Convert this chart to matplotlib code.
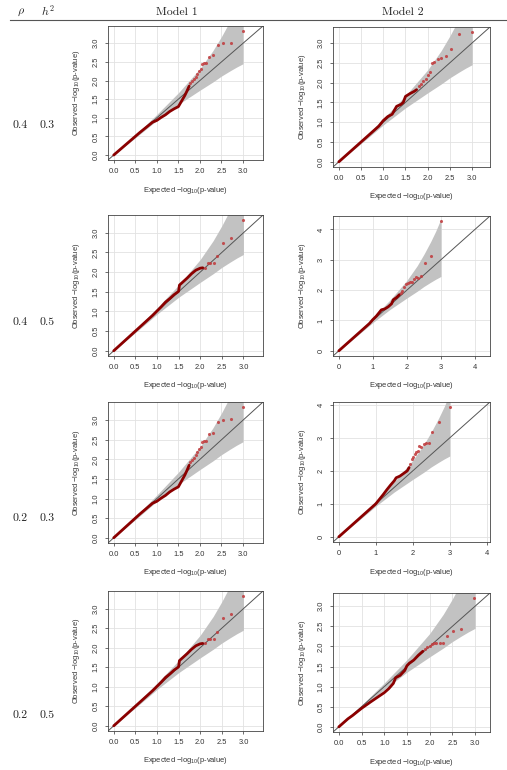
import matplotlib.pyplot as plt
import numpy as np
from matplotlib.ticker import MultipleLocator, FormatStrFormatter

plt.rcParams['font.family'] = ['Liberation Sans', 'DejaVu Sans']
plt.rcParams['mathtext.fontset'] = 'custom'
plt.rcParams['mathtext.rm'] = 'Liberation Sans'
plt.rcParams['mathtext.it'] = 'Liberation Sans:italic'

# table labels
rho = ['0.4', '0.4', '0.2', '0.2']
h2 = ['0.3', '0.5', '0.3', '0.5']
models = ['Model 1', 'Model 2']

# 95% confidence band (same for every panel)
band_x = [0.0, 0.5, 1.0, 1.5, 2.0, 2.3, 2.5, 2.7, 2.85, 3.0]
band_lo = [0.0, 0.46, 0.93, 1.36, 1.74, 1.96, 2.12, 2.26, 2.36, 2.45]
band_hi = [0.0, 0.54, 1.09, 1.67, 2.32, 2.80, 3.18, 3.60, 3.95, 4.35]

# Model 1, h2 = 0.3  (dense run of points + sparse tail)
a_dense_x = [0, 0.3, 0.6, 0.9, 1.0, 1.1, 1.2, 1.3, 1.4, 1.5, 1.55, 1.6, 1.65, 1.7, 1.75]
a_dense_y = [0, 0.3, 0.6, 0.88, 0.93, 1.01, 1.08, 1.17, 1.24, 1.3, 1.4, 1.5, 1.6, 1.72, 1.85]
a_tail_x = [1.78, 1.82, 1.86, 1.9, 1.94, 1.98, 2.02, 2.05, 2.09, 2.15, 2.22, 2.31, 2.41, 2.53, 2.71, 2.99]
a_tail_y = [1.93, 1.98, 2.04, 2.1, 2.18, 2.26, 2.32, 2.44, 2.46, 2.48, 2.64, 2.68, 2.95, 3.0, 3.02, 3.33]

# Model 1, h2 = 0.5
b_dense_x = [0, 0.3, 0.6, 0.9, 1.1, 1.2, 1.3, 1.4, 1.5, 1.52, 1.6, 1.7, 1.8, 1.9, 2.0, 2.06]
b_dense_y = [0, 0.3, 0.6, 0.9, 1.12, 1.24, 1.33, 1.43, 1.51, 1.67, 1.75, 1.85, 1.96, 2.05, 2.1, 2.11]
b_tail_x = [2.1, 2.17, 2.23, 2.31, 2.4, 2.53, 2.71, 3.0]
b_tail_y = [2.11, 2.22, 2.22, 2.23, 2.41, 2.75, 2.87, 3.32]

# Model 2, rho 0.4 h2 0.3
c_dense_x = [0, 0.3, 0.6, 0.9, 1.0, 1.1, 1.2, 1.3, 1.4, 1.45, 1.5, 1.6, 1.7, 1.75]
c_dense_y = [0, 0.3, 0.6, 0.9, 1.04, 1.14, 1.2, 1.4, 1.45, 1.5, 1.65, 1.72, 1.78, 1.82]
c_tail_x = [1.8, 1.85, 1.9, 1.95, 2.0, 2.05, 2.1, 2.15, 2.22, 2.3, 2.4, 2.52, 2.7, 3.0]
c_tail_y = [1.92, 1.96, 2.05, 2.1, 2.19, 2.26, 2.5, 2.53, 2.6, 2.63, 2.66, 2.85, 3.22, 3.27]

# Model 2, rho 0.4 h2 0.5
d_dense_x = [0, 0.3, 0.6, 0.9, 1.0, 1.1, 1.2, 1.25, 1.35, 1.45, 1.55, 1.6, 1.7, 1.78]
d_dense_y = [0, 0.3, 0.6, 0.9, 1.03, 1.14, 1.28, 1.35, 1.38, 1.45, 1.55, 1.68, 1.76, 1.85]
d_tail_x = [1.82, 1.87, 1.92, 1.97, 2.02, 2.08, 2.14, 2.2, 2.26, 2.32, 2.4, 2.52, 2.7, 3.0]
d_tail_y = [1.9, 1.98, 2.1, 2.2, 2.24, 2.26, 2.28, 2.36, 2.42, 2.4, 2.45, 2.9, 3.13, 4.27]

# Model 2, rho 0.2 h2 0.3
e_dense_x = [0, 0.3, 0.6, 0.9, 1.0, 1.1, 1.2, 1.3, 1.4, 1.5, 1.55, 1.65, 1.75, 1.85, 1.9]
e_dense_y = [0, 0.3, 0.6, 0.9, 1.0, 1.14, 1.28, 1.43, 1.57, 1.7, 1.79, 1.84, 1.92, 2.0, 2.1]
e_tail_x = [1.93, 1.97, 2.01, 2.05, 2.09, 2.13, 2.17, 2.23, 2.29, 2.36, 2.44, 2.53, 2.71, 3.0]
e_tail_y = [2.2, 2.36, 2.43, 2.5, 2.56, 2.6, 2.74, 2.72, 2.82, 2.84, 2.85, 3.19, 3.49, 3.93]

# Model 2, rho 0.2 h2 0.5
f_dense_x = [0, 0.2, 0.3, 0.5, 0.7, 1.0, 1.1, 1.2, 1.25, 1.35, 1.45, 1.5, 1.55, 1.65, 1.75, 1.85]
f_dense_y = [0, 0.2, 0.28, 0.46, 0.62, 0.85, 0.95, 1.08, 1.22, 1.28, 1.4, 1.52, 1.58, 1.66, 1.78, 1.88]
f_tail_x = [1.9, 1.95, 2.0, 2.05, 2.1, 2.15, 2.22, 2.3, 2.38, 2.52, 2.7, 2.98]
f_tail_y = [1.93, 1.98, 2.01, 2.05, 2.08, 2.09, 2.09, 2.08, 2.27, 2.38, 2.43, 3.2]

panels = [
    [(a_dense_x, a_dense_y, a_tail_x, a_tail_y), (c_dense_x, c_dense_y, c_tail_x, c_tail_y)],
    [(b_dense_x, b_dense_y, b_tail_x, b_tail_y), (d_dense_x, d_dense_y, d_tail_x, d_tail_y)],
    [(a_dense_x, a_dense_y, a_tail_x, a_tail_y), (e_dense_x, e_dense_y, e_tail_x, e_tail_y)],
    [(b_dense_x, b_dense_y, b_tail_x, b_tail_y), (f_dense_x, f_dense_y, f_tail_x, f_tail_y)],
]

# panel boxes in pixels: left, top, right, bottom
boxes = [
    [(108, 26, 263, 160), (333, 27, 490, 167)],
    [(108, 215, 263, 356), (333, 216, 490, 356)],
    [(108, 402, 263, 543), (333, 402, 490, 542)],
    [(108, 591, 263, 731), (333, 593, 490, 732)],
]
row_y = [125, 322, 518, 715]

W, H = 507, 770
fig = plt.figure(figsize=(W / 100, H / 100), dpi=100)

# header of the table
hdr = dict(fontsize=8.5, va='center', ha='center', color='#222222')
fig.text(21 / W, 1 - 12 / H, r'$\rho$', math_fontfamily='cm', **hdr)
fig.text(48 / W, 1 - 11 / H, r'$h^2$', math_fontfamily='cm', **hdr)
fig.text(177 / W, 1 - 12 / H, models[0], family='cmr10', **hdr)
fig.text(403 / W, 1 - 12 / H, models[1], family='cmr10', **hdr)
fig.add_artist(plt.Line2D([10 / W, 1], [1 - 20 / H, 1 - 20 / H], color='#555555', lw=0.8))

for r in range(4):
    fig.text(20 / W, 1 - row_y[r] / H, rho[r], family='cmr10', **hdr)
    fig.text(47 / W, 1 - row_y[r] / H, h2[r], family='cmr10', **hdr)

    for c in range(2):
        dx, dy, tx, ty = panels[r][c]
        l, t, rr, b = boxes[r][c]
        ax = fig.add_axes([l / W, 1 - b / H, (rr - l) / W, (b - t) / H])

        m = max(max(ty), 3.0)
        lim = (-0.04 * m, 1.04 * m)
        ax.set_xlim(lim)
        ax.set_ylim(lim)

        step = 0.5 if m < 3.6 else 1.0
        fmt = '%.1f' if step < 1 else '%d'
        for axis in (ax.xaxis, ax.yaxis):
            axis.set_major_locator(MultipleLocator(step))
            axis.set_major_formatter(FormatStrFormatter(fmt))
        ax.grid(True, color='#e2e2e2', lw=0.6)
        ax.set_axisbelow(True)

        ax.fill_between(band_x, band_lo, band_hi, color='#c2c2c2', lw=0, zorder=1)
        ax.plot(lim, lim, color='#555555', lw=0.7, zorder=2)
        ax.plot(dx, dy, color='#8b0000', lw=2.0, solid_capstyle='round', zorder=3)
        ax.scatter(tx, ty, s=5, color='#c0393b', alpha=0.85, lw=0, zorder=4)

        ax.tick_params(labelsize=5.4, length=2.5, width=0.5, pad=3.5, colors='#333333')
        ax.tick_params(axis='y', labelrotation=90)
        for lab in ax.get_yticklabels():
            lab.set_va('center')
        for s in ax.spines.values():
            s.set_color('#444444')
            s.set_linewidth(0.6)

        ax.set_xlabel('Expected \u2212log$_{10}$(p-value)', fontsize=5.4, color='#333333')
        ax.set_ylabel('Observed \u2212log$_{10}$(p-value)', fontsize=5.4, color='#333333')
        ax.xaxis.set_label_coords(0.5, -30 / (b - t))
        ax.yaxis.set_label_coords(-31 / (rr - l), 0.5)
        ax.xaxis.label.set_va('center')
        ax.yaxis.label.set_va('center')

fig.savefig('out.png', dpi=100)
